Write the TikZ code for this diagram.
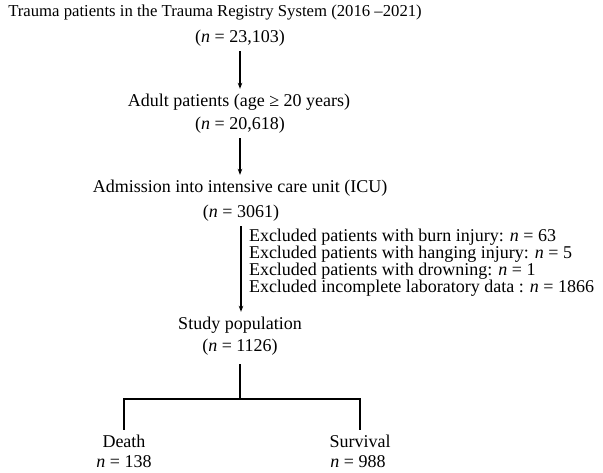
\documentclass[tikz,border=0pt]{standalone}
\usepackage{fontspec}
\setmainfont{Liberation Serif}
\usetikzlibrary{arrows.meta}

\begin{document}
\begin{tikzpicture}[x=1pt,y=-1pt,
    txt/.style={inner sep=0pt, outer sep=5pt, font=\fontsize{18}{17}\selectfont},
    arr/.style={-{Stealth[length=6pt,width=4.5pt]}, line width=1.1pt},
    branch/.style={line width=1.1pt}]

    \useasboundingbox (0,0) rectangle (603,472);

    % Registry
    \node[txt, font=\fontsize{16.7}{17}\selectfont] (reg) at (215,13) {Trauma patients in the Trauma Registry System (2016 --2021)};
    \node[txt] (nreg) at (240,38) {(\textit{n} = 23,103)};

    % Adults
    \node[txt] (adult) at (239,102) {Adult patients (age ≥ 20 years)};
    \node[txt] (nadult) at (240,125) {(\textit{n} = 20,618)};

    % ICU
    \node[txt] (icu) at (240,188) {Admission into intensive care unit (ICU)};
    \node[txt] (nicu) at (241,213) {(\textit{n} = 3061)};

    % Exclusions
    \node[txt, anchor=west, align=left] (excl) at (244,263)
        {Excluded patients with burn injury: \textit{n} = 63\\
         Excluded patients with hanging injury: \textit{n} = 5\\
         Excluded patients with drowning: \textit{n} = 1\\
         Excluded incomplete laboratory data : \textit{n} = 1866};

    % Study population
    \node[txt] (study) at (240,325) {Study population};
    \node[txt] (nstudy) at (240,347) {(\textit{n} = 1126)};

    % Outcome
    \node[txt] (death) at (124,441) {Death};
    \node[txt] (ndeath) at (124,462) {\textit{n} = 138};
    \node[txt] (surv) at (360,441) {Survival};
    \node[txt] (nsurv) at (358,462) {\textit{n} = 988};

    % Arrows
    \draw[arr] (nreg.south) -- (nreg.south |- adult.north);
    \draw[arr] (nadult.south) -- (nadult.south |- icu.north);
    \draw[arr] (nicu.south) -- (nicu.south |- study.north);

    % Split
    \coordinate (fork) at (240,399);
    \draw[branch, shorten <=4pt] (nstudy.south) -- (nstudy.south |- fork);
    \draw[branch] (death.north) -- (death.north |- fork) -- (surv.north |- fork) -- (surv.north);
\end{tikzpicture}
\end{document}
